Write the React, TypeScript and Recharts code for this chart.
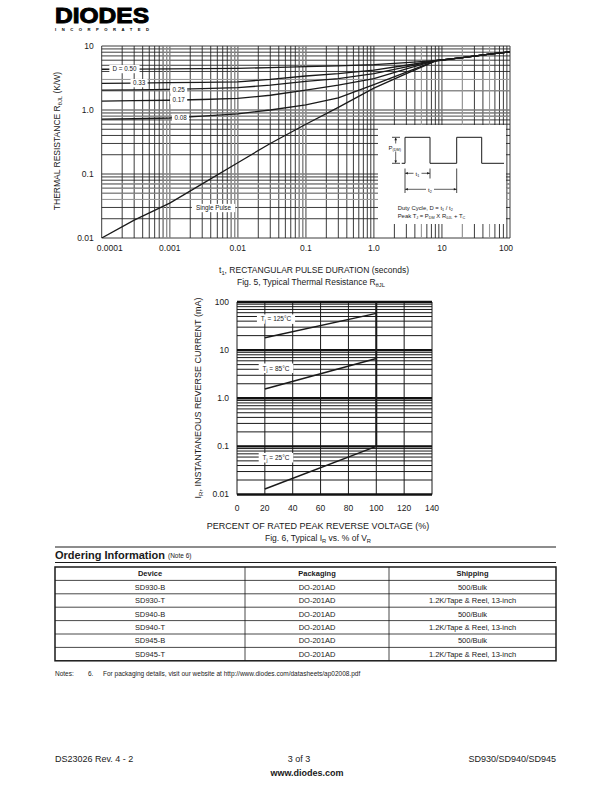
import React from "react";
import { LineChart, Line, XAxis, YAxis, CartesianGrid, ReferenceLine, ReferenceDot } from "recharts";

const FONT = "'Liberation Sans', Arial, Helvetica, sans-serif";
const INK = "#1a1a1a";

// ---------------- Fig. 5 data ----------------
const fig5Times = [0.0001, 0.0003, 0.001, 0.003, 0.01, 0.03, 0.1, 0.3, 1, 3, 8, 20, 50, 100];
const fig5Single = [0.01, 0.019, 0.035, 0.07, 0.15, 0.3, 0.6, 1.1, 2.2, 3.7, 5.8, 6.6, 7.45, 8.1];
const fig5D008 = [0.72, 0.73, 0.75, 0.8, 0.87, 1.0, 1.2, 1.55, 2.5, 3.9, 5.85, 6.6, 7.45, 8.1];
const fig5D017 = [1.38, 1.4, 1.42, 1.46, 1.52, 1.7, 2.05, 2.45, 3.1, 4.4, 5.9, 6.6, 7.45, 8.1];
const fig5D025 = [2.05, 2.07, 2.1, 2.15, 2.23, 2.45, 2.8, 3.1, 3.7, 4.7, 5.9, 6.6, 7.45, 8.1];
const fig5D033 = [2.61, 2.63, 2.67, 2.71, 2.76, 3.0, 3.4, 3.7, 4.2, 5.0, 5.9, 6.6, 7.45, 8.1];
const fig5D050 = [4.33, 4.36, 4.4, 4.43, 4.47, 4.6, 4.75, 4.9, 5.1, 5.5, 5.9, 6.6, 7.45, 8.1];

const fig5XDecades = [0.0001, 0.001, 0.01, 0.1, 1, 10, 100];
const fig5XLabels = ["0.0001", "0.001", "0.01", "0.1", "1.0", "10", "100"];
const fig5YDecades = [0.01, 0.1, 1, 10];
const fig5YLabels = ["0.01", "0.1", "1.0", "10"];
const fig5GrayX = [0.0008, 0.0009, 0.001, 0.008, 0.009, 0.01, 0.08, 0.09, 0.1, 5, 20, 50];
const fig5GrayY = [0.04, 0.05, 0.06, 0.07, 0.8, 0.9, 1, 2, 3];

const fig5LabelTexts = ["D = 0.50", "0.33", "0.25", "0.17", "0.08", "Single Pulse"];
const fig5LabelT = [0.000216, 0.000354, 0.00135, 0.00135, 0.00144, 0.0044];
const fig5LabelR = [4.36, 2.63, 2.1, 1.43, 0.75, 0.0294];

// ---------------- Fig. 6 data ----------------
const fig6Percent = [20, 100];
const fig6T125 = [18, 58];
const fig6T85 = [1.55, 6.7];
const fig6T25 = [0.013, 0.1];
const fig6RatedPercent = [100, 100];
const fig6RatedCurrent = [0.1, 100];
const fig6XTicks = [0, 20, 40, 60, 80, 100, 120, 140];
const fig6YDecades = [0.01, 0.1, 1, 10, 100];
const fig6YLabels = ["0.01", "0.1", "1.0", "10", "100"];
const fig6LabelTemps = ["125°C", "85°C", "25°C"];
const fig6LabelP = [28, 28, 28];
const fig6LabelI = [44, 4.2, 0.058];

// ---------------- Ordering table ----------------
const orderHeaders = ["Device", "Packaging", "Shipping"];
const orderDevices = ["SD930-B", "SD930-T", "SD940-B", "SD940-T", "SD945-B", "SD945-T"];
const orderPackaging = ["DO-201AD", "DO-201AD", "DO-201AD", "DO-201AD", "DO-201AD", "DO-201AD"];
const orderShipping = [
  "500/Bulk",
  "1.2K/Tape & Reel, 13-inch",
  "500/Bulk",
  "1.2K/Tape & Reel, 13-inch",
  "500/Bulk",
  "1.2K/Tape & Reel, 13-inch",
];

const gridMultipliers = [1, 2, 3, 4, 5, 6, 7, 8, 9];
const logGrid = (decades: number[]) =>
  decades
    .slice(0, -1)
    .flatMap((d) => gridMultipliers.map((m) => +(m * d).toPrecision(6)))
    .concat(decades[decades.length - 1]);

const fig5XGrid = logGrid(fig5XDecades);
const fig5YGrid = logGrid(fig5YDecades);
const fig6YGrid = logGrid(fig6YDecades);

const fig5Rows = fig5Times.map((t, i) => ({
  t,
  sp: fig5Single[i],
  d08: fig5D008[i],
  d17: fig5D017[i],
  d25: fig5D025[i],
  d33: fig5D033[i],
  d50: fig5D050[i],
}));
const fig6Rows125 = fig6Percent.map((p, i) => ({ p, v: fig6T125[i] }));
const fig6Rows85 = fig6Percent.map((p, i) => ({ p, v: fig6T85[i] }));
const fig6Rows25 = fig6Percent.map((p, i) => ({ p, v: fig6T25[i] }));
const fig6RowsRated = fig6RatedPercent.map((p, i) => ({ p, v: fig6RatedCurrent[i] }));

const findDecade = (decades: number[], v: number) => decades.findIndex((d) => Math.abs(v / d - 1) < 1e-6);

const makeXTick = (decades: number[], labels: string[], fs: number, edgeShift: number[]) => (props: any) => {
  const { x, y, payload } = props;
  const i = findDecade(decades, payload.value);
  if (i < 0) return <g />;
  const dx = i === 0 ? edgeShift[0] : i === decades.length - 1 ? edgeShift[1] : 0;
  return (
    <text x={x + dx} y={y} dy="0.71em" textAnchor="middle" fontSize={fs} fontFamily={FONT} fill={INK}>
      {labels[i]}
    </text>
  );
};

const makeYTick = (decades: number[], labels: string[], fs: number) => (props: any) => {
  const { x, y, payload } = props;
  const i = findDecade(decades, payload.value);
  if (i < 0) return <g />;
  return (
    <text x={x} y={y} dy="0.35em" textAnchor="end" fontSize={fs} fontFamily={FONT} fill={INK}>
      {labels[i]}
    </text>
  );
};

const linearXTick = (fs: number) => (props: any) => {
  const { x, y, payload } = props;
  return (
    <text x={x} y={y} dy="0.71em" textAnchor="middle" fontSize={fs} fontFamily={FONT} fill={INK}>
      {String(payload.value)}
    </text>
  );
};

const boxedText = (text: string, fs: number) => (props: any) => {
  const { cx, cy } = props;
  const w = text.length * fs * 0.52 + 4;
  const h = fs + 2;
  return (
    <g>
      <rect x={cx - w / 2} y={cy - h / 2} width={w} height={h} fill="#fff" />
      <text x={cx} y={cy} dy="0.35em" textAnchor="middle" fontSize={fs} fontFamily={FONT} fill={INK}>
        {text}
      </text>
    </g>
  );
};

const boxedTj = (temp: string, fs: number) => (props: any) => {
  const { cx, cy } = props;
  const w = (temp.length + 4) * fs * 0.55 + 6;
  const h = fs + 3;
  return (
    <g>
      <rect x={cx - w / 2} y={cy - h / 2} width={w} height={h} fill="#fff" />
      <text x={cx} y={cy} dy="0.35em" textAnchor="middle" fontSize={fs} fontFamily={FONT} fill={INK}>
        T
        <tspan fontSize={fs * 0.7} dy={fs * 0.3}>j</tspan>
        <tspan dy={-fs * 0.3}> = {temp}</tspan>
      </text>
    </g>
  );
};

const Fig5 = () => (
  <LineChart width={612} height={300} data={fig5Rows} margin={{ top: 46, right: 102, bottom: 42, left: 61.7 }}>
    <CartesianGrid stroke="#262626" strokeWidth={0.9} />
    <XAxis
      dataKey="t"
      type="number"
      scale="log"
      domain={[0.0001, 100]}
      ticks={fig5XGrid}
      interval={0}
      allowDataOverflow
      tick={makeXTick(fig5XDecades, fig5XLabels, 8.5, [8, -4])}
      tickLine={false}
      axisLine={false}
      tickSize={0}
      tickMargin={7}
      height={20}
    />
    <YAxis
      type="number"
      scale="log"
      domain={[0.01, 10]}
      ticks={fig5YGrid}
      interval={0}
      allowDataOverflow
      tick={makeYTick(fig5YDecades, fig5YLabels, 8.5)}
      tickLine={false}
      axisLine={false}
      tickSize={0}
      tickMargin={8}
      width={40}
    />
    {fig5GrayX.map((v) => (
      <ReferenceLine key={"gx" + v} x={v} stroke="#9a9a9a" strokeWidth={1.1} />
    ))}
    {fig5GrayY.map((v) => (
      <ReferenceLine key={"gy" + v} y={v} stroke="#9a9a9a" strokeWidth={1.1} />
    ))}
    <Line dataKey="sp" stroke={INK} strokeWidth={1.3} dot={false} isAnimationActive={false} />
    <Line dataKey="d08" stroke={INK} strokeWidth={1.3} dot={false} isAnimationActive={false} />
    <Line dataKey="d17" stroke={INK} strokeWidth={1.3} dot={false} isAnimationActive={false} />
    <Line dataKey="d25" stroke={INK} strokeWidth={1.3} dot={false} isAnimationActive={false} />
    <Line dataKey="d33" stroke={INK} strokeWidth={1.3} dot={false} isAnimationActive={false} />
    <Line dataKey="d50" stroke={INK} strokeWidth={1.3} dot={false} isAnimationActive={false} />
    {fig5LabelTexts.map((txt, i) => (
      <ReferenceDot
        key={"l" + i}
        x={fig5LabelT[i]}
        y={fig5LabelR[i]}
        r={0}
        ifOverflow="visible"
        shape={boxedText(txt, 6.3)}
      />
    ))}
  </LineChart>
);

const Fig6 = () => (
  <LineChart width={612} height={240} margin={{ top: 22, right: 180, bottom: 5.5, left: 207 }}>
    <CartesianGrid stroke="#1a1a1a" strokeWidth={1} />
    <XAxis
      dataKey="p"
      type="number"
      domain={[0, 140]}
      ticks={fig6XTicks}
      interval={0}
      allowDataOverflow
      tick={linearXTick(8.5)}
      tickLine={false}
      axisLine={false}
      tickSize={0}
      tickMargin={10}
      height={20}
    />
    <YAxis
      dataKey="v"
      type="number"
      scale="log"
      domain={[0.01, 100]}
      ticks={fig6YGrid}
      interval={0}
      allowDataOverflow
      tick={makeYTick(fig6YDecades, fig6YLabels, 8.5)}
      tickLine={false}
      axisLine={false}
      tickSize={0}
      tickMargin={8}
      width={30}
    />
    {fig6YDecades.map((v) => (
      <ReferenceLine key={"dy" + v} y={v} stroke="#111" strokeWidth={2.4} />
    ))}
    <Line data={fig6Rows125} dataKey="v" stroke={INK} strokeWidth={1.5} dot={false} isAnimationActive={false} />
    <Line data={fig6Rows85} dataKey="v" stroke={INK} strokeWidth={1.5} dot={false} isAnimationActive={false} />
    <Line data={fig6Rows25} dataKey="v" stroke={INK} strokeWidth={1.5} dot={false} isAnimationActive={false} />
    <Line data={fig6RowsRated} dataKey="v" stroke={INK} strokeWidth={2} dot={false} isAnimationActive={false} />
    {fig6LabelTemps.map((tmp, i) => (
      <ReferenceDot key={"tl" + i} x={fig6LabelP[i]} y={fig6LabelI[i]} r={0} ifOverflow="visible" shape={boxedTj(tmp, 6.5)} />
    ))}
  </LineChart>
);

const Arrow = ({ x, y, dir }: { x: number; y: number; dir: "l" | "r" | "u" | "d" }) => {
  const s = 2.6;
  const w = 1.3;
  let pts = "";
  if (dir === "l") pts = `${x},${y} ${x + s},${y - w} ${x + s},${y + w}`;
  if (dir === "r") pts = `${x},${y} ${x - s},${y - w} ${x - s},${y + w}`;
  if (dir === "u") pts = `${x},${y} ${x - w},${y + s} ${x + w},${y + s}`;
  if (dir === "d") pts = `${x},${y} ${x - w},${y - s} ${x + w},${y - s}`;
  return <polygon points={pts} fill={INK} />;
};

const Overlay = () => {
  const cols = [55, 245, 389, 556];
  const tTop = 567;
  const rowH = 13.4;
  const nRows = orderDevices.length + 1;
  const tBottom = tTop + rowH * nRows;
  const colData = [orderDevices, orderPackaging, orderShipping];
  return (
    <svg width={612} height={792} style={{ position: "absolute", left: 0, top: 0 }} fontFamily={FONT}>
      {/* Logo */}
      <text x={55} y={22.5} fontSize={22} fontWeight="bold" fill="#000" stroke="#000" strokeWidth={1} textLength={94} lengthAdjust="spacingAndGlyphs">
        DIODES
      </text>
      <text x={55} y={30.5} fontSize={4.2} fontWeight="bold" fill="#000" textLength={94} lengthAdjust="spacing">
        INCORPORATED
      </text>

      {/* Fig 5 inset */}
      <rect x={378} y={125} width={128} height={99} fill="#fff" />
      <polyline
        points="401.7,163.3 405,163.3 405,137.3 430,137.3 430,163.3 456.7,163.3 456.7,137.3 481.7,137.3 481.7,163.3 504,163.3"
        fill="none"
        stroke={INK}
        strokeWidth={1}
      />
      <line x1={392} y1={137.3} x2={400} y2={137.3} stroke={INK} strokeWidth={0.8} />
      <line x1={392} y1={163.3} x2={400} y2={163.3} stroke={INK} strokeWidth={0.8} />
      <line x1={395.7} y1={138} x2={395.7} y2={162.6} stroke={INK} strokeWidth={0.7} />
      <Arrow x={395.7} y={137.6} dir="u" />
      <Arrow x={395.7} y={163} dir="d" />
      <rect x={387.5} y={143.5} width={16} height={8} fill="#fff" />
      <text x={388.5} y={149.5} fontSize={6} fill={INK}>
        P<tspan fontSize={3.8} dy={1}>(DM)</tspan>
      </text>
      <line x1={405} y1={168.5} x2={405} y2={193} stroke={INK} strokeWidth={0.8} />
      <line x1={430} y1={168.5} x2={430} y2={178.5} stroke={INK} strokeWidth={0.8} />
      <line x1={456.7} y1={168.5} x2={456.7} y2={193} stroke={INK} strokeWidth={0.8} />
      <line x1={405} y1={173.3} x2={430} y2={173.3} stroke={INK} strokeWidth={0.7} />
      <Arrow x={405.3} y={173.3} dir="l" />
      <Arrow x={429.7} y={173.3} dir="r" />
      <rect x={413.5} y={169.5} width={8} height={7.5} fill="#fff" />
      <text x={417.5} y={175.5} fontSize={6} textAnchor="middle" fill={INK}>
        t<tspan fontSize={3.8} dy={1}>1</tspan>
      </text>
      <line x1={405} y1={189.3} x2={456.7} y2={189.3} stroke={INK} strokeWidth={0.7} />
      <Arrow x={405.3} y={189.3} dir="l" />
      <Arrow x={456.4} y={189.3} dir="r" />
      <rect x={426} y={185.5} width={8} height={7.5} fill="#fff" />
      <text x={430} y={191.5} fontSize={6} textAnchor="middle" fill={INK}>
        t<tspan fontSize={3.8} dy={1}>2</tspan>
      </text>
      <text x={397.7} y={209.5} fontSize={5.9} fill={INK}>
        Duty Cycle, D = t<tspan fontSize={3.8} dy={1}>1</tspan>
        <tspan dy={-1}> / t</tspan>
        <tspan fontSize={3.8} dy={1}>2</tspan>
      </text>
      <text x={397.7} y={218.2} fontSize={5.9} fill={INK}>
        Peak T<tspan fontSize={3.8} dy={1}>J</tspan>
        <tspan dy={-1}> = P</tspan>
        <tspan fontSize={3.8} dy={1}>DM</tspan>
        <tspan dy={-1}> X R</tspan>
        <tspan fontSize={3.8} dy={1}>θJL</tspan>
        <tspan dy={-1}> + T</tspan>
        <tspan fontSize={3.8} dy={1}>C</tspan>
      </text>

      {/* Fig 5 titles */}
      <text transform="translate(60,141) rotate(-90)" fontSize={8.5} textAnchor="middle" fill={INK}>
        THERMAL RESISTANCE R<tspan fontSize={5.8} dy={2}>θJL</tspan>
        <tspan dy={-2}> (K/W)</tspan>
      </text>
      <text x={314} y={273} fontSize={8.5} textAnchor="middle" fill={INK}>
        t<tspan fontSize={5.8} dy={2}>1</tspan>
        <tspan dy={-2}>, RECTANGULAR PULSE DURATION (seconds)</tspan>
      </text>
      <text x={311} y={284.5} fontSize={8.5} textAnchor="middle" fill={INK}>
        Fig. 5, Typical Thermal Resistance R<tspan fontSize={5.8} dy={2}>θJL</tspan>
      </text>

      {/* Fig 6 titles */}
      <text transform="translate(201,398) rotate(-90)" fontSize={9} textAnchor="middle" fill={INK}>
        I<tspan fontSize={6} dy={2}>R</tspan>
        <tspan dy={-2}>, INSTANTANEOUS REVERSE CURRENT (mA)</tspan>
      </text>
      <text x={318} y={528.5} fontSize={9} textAnchor="middle" fill={INK}>
        PERCENT OF RATED PEAK REVERSE VOLTAGE (%)
      </text>
      <text x={318} y={540.5} fontSize={8.5} textAnchor="middle" fill={INK}>
        Fig. 6, Typical I<tspan fontSize={5.8} dy={2}>R</tspan>
        <tspan dy={-2}> vs. % of V</tspan>
        <tspan fontSize={5.8} dy={2}>R</tspan>
      </text>

      {/* Ordering information */}
      <line x1={55} y1={547} x2={cols[3]} y2={547} stroke={INK} strokeWidth={1} />
      <text x={55} y={558.5} fontSize={11} fontWeight="bold" fill={INK}>
        Ordering Information
      </text>
      <text x={168} y={558} fontSize={6.5} fill={INK}>
        (Note 6)
      </text>
      <line x1={55} y1={562.5} x2={cols[3]} y2={562.5} stroke={INK} strokeWidth={1.2} />

      <rect x={cols[0]} y={tTop} width={cols[3] - cols[0]} height={tBottom - tTop} fill="none" stroke={INK} strokeWidth={1.5} />
      {Array.from({ length: nRows - 1 }, (_, k) => (
        <line key={"rl" + k} x1={cols[0]} x2={cols[3]} y1={tTop + rowH * (k + 1)} y2={tTop + rowH * (k + 1)} stroke={INK} strokeWidth={0.8} />
      ))}
      {[cols[1], cols[2]].map((cx) => (
        <line key={"cl" + cx} x1={cx} x2={cx} y1={tTop} y2={tBottom} stroke={INK} strokeWidth={0.8} />
      ))}
      {orderHeaders.map((h, c) => (
        <text key={"h" + c} x={(cols[c] + cols[c + 1]) / 2} y={tTop + rowH / 2} dy="0.35em" fontSize={7.5} fontWeight="bold" textAnchor="middle" fill={INK}>
          {h}
        </text>
      ))}
      {colData.map((col, c) =>
        col.map((v, r) => (
          <text key={"c" + c + "r" + r} x={(cols[c] + cols[c + 1]) / 2} y={tTop + rowH * (r + 1.5)} dy="0.35em" fontSize={7.5} textAnchor="middle" fill={INK}>
            {v}
          </text>
        ))
      )}

      <text x={55} y={675.5} fontSize={6.5} fill={INK}>
        Notes:
      </text>
      <text x={88} y={675.5} fontSize={6.5} fill={INK}>
        6.
      </text>
      <text x={103} y={675.5} fontSize={6.5} fill={INK}>
        For packaging details, visit our website at http://www.diodes.com/datasheets/ap02008.pdf
      </text>

      {/* Footer */}
      <text x={55} y={762} fontSize={9} fill={INK}>
        DS23026 Rev. 4 - 2
      </text>
      <text x={299} y={762} fontSize={9} textAnchor="middle" fill={INK}>
        3 of 3
      </text>
      <text x={556} y={762} fontSize={9} textAnchor="end" fill={INK}>
        SD930/SD940/SD945
      </text>
      <text x={307} y={776} fontSize={9} fontWeight="bold" textAnchor="middle" fill={INK}>
        www.diodes.com
      </text>
    </svg>
  );
};

export default function App() {
  return (
    <div style={{ position: "absolute", left: 0, top: 0, width: 612, height: 792, background: "#fff", overflow: "hidden", fontFamily: FONT }}>
      <div style={{ position: "absolute", left: 0, top: 0 }}>
        <Fig5 />
      </div>
      <div style={{ position: "absolute", left: 0, top: 280 }}>
        <Fig6 />
      </div>
      <Overlay />
    </div>
  );
}
